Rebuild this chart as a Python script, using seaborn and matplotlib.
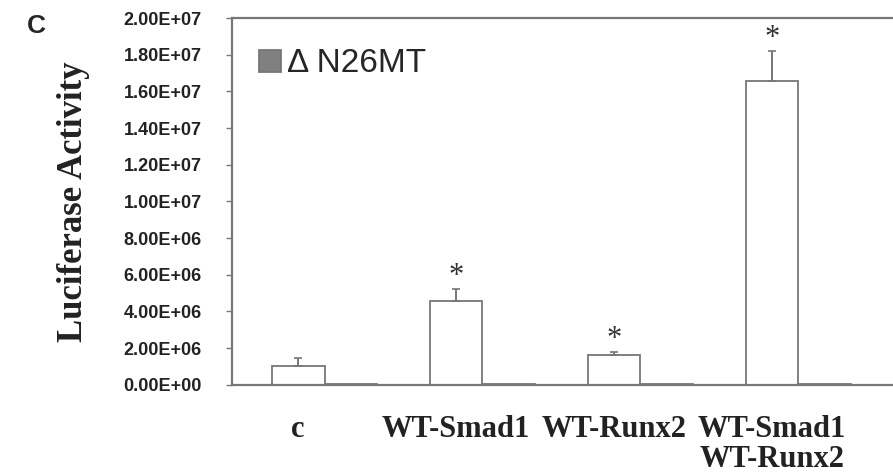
import numpy as np
import pandas as pd
import matplotlib
matplotlib.use("Agg")
import matplotlib.pyplot as plt
import seaborn as sns

groups = ["c", "WT-Smad1", "WT-Runx2", "WT-Smad1\nWT-Runx2"]
series = ["WT", "Δ N26MT"]
wt_values = [1.04e6, 4.58e6, 1.60e6, 1.655e7]
wt_err = [0.43e6, 0.65e6, 0.20e6, 1.65e6]
mt_values = [1.5e4, 1.5e4, 1.5e4, 1.5e4]
stars = ["", "*", "*", "*"]
ytick_vals = np.arange(0, 2.01e7, 2e6)

df = pd.DataFrame({
    "group": groups * 2,
    "series": [series[0]] * 4 + [series[1]] * 4,
    "value": wt_values + mt_values,
})

sns.set_theme(style="white")
plt.rcParams["font.family"] = ["Liberation Sans", "DejaVu Sans"]

fig = plt.figure(figsize=(8.93, 4.75), dpi=100)
ax = fig.add_axes([0.26, 0.19, 0.74, 0.772])

edge = "#777777"
sns.barplot(data=df, x="group", y="value", hue="series", order=groups,
            hue_order=series, palette={series[0]: "white", series[1]: "#808080"},
            width=0.667, edgecolor=edge, linewidth=1.3, ax=ax, errorbar=None)

# white bars are the first four patches
wt_bars = ax.patches[:4]
xs = [p.get_x() + p.get_width() / 2 for p in wt_bars]
ax.errorbar(xs, wt_values, yerr=[np.zeros(4), wt_err], fmt="none",
            ecolor=edge, elinewidth=1.4, capsize=3, capthick=1.2)
for x, v, e, s in zip(xs, wt_values, wt_err, stars):
    if s:
        ax.text(x, v + e - 0.12e6, s, ha="center", va="bottom",
                fontsize=22, family=["Liberation Serif"], color="#333333")

ax.set_ylim(0, 2e7)
ax.set_xlim(-0.585, 3.6)
ax.set_yticks(ytick_vals)
ax.set_yticklabels([f"{v:.2E}" for v in ytick_vals], fontsize=13,
                   fontweight="bold", color="#222222")
ax.set_xticks(xs)
ax.set_xticklabels(groups, family=["Liberation Serif"], fontweight="bold",
                   fontsize=22, color="#222222", linespacing=1.05, va="top")
ax.tick_params(axis="x", length=0, pad=22)
ax.tick_params(axis="y", direction="out", length=4, width=1, color=edge,
               left=True, pad=18)
ax.set_xlabel("")
ax.set_ylabel("Luciferase Activity", family=["Liberation Serif"],
              fontweight="bold", fontsize=25, color="#222222", labelpad=24)

for side in ["left", "top", "bottom"]:
    ax.spines[side].set_color(edge)
    ax.spines[side].set_linewidth(1.6)
ax.spines["right"].set_visible(False)

handles, labels = ax.get_legend_handles_labels()
ax.legend(handles[1:], labels[1:], loc="center left", bbox_to_anchor=(0.0, 0.875),
          frameon=False, fontsize=24, handlelength=0.65, handleheight=0.65,
          handletextpad=0.2, borderaxespad=0.4)

fig.text(0.03, 0.945, "C", fontsize=19, fontweight="bold", va="center")

fig.savefig("out.png", dpi=100)
